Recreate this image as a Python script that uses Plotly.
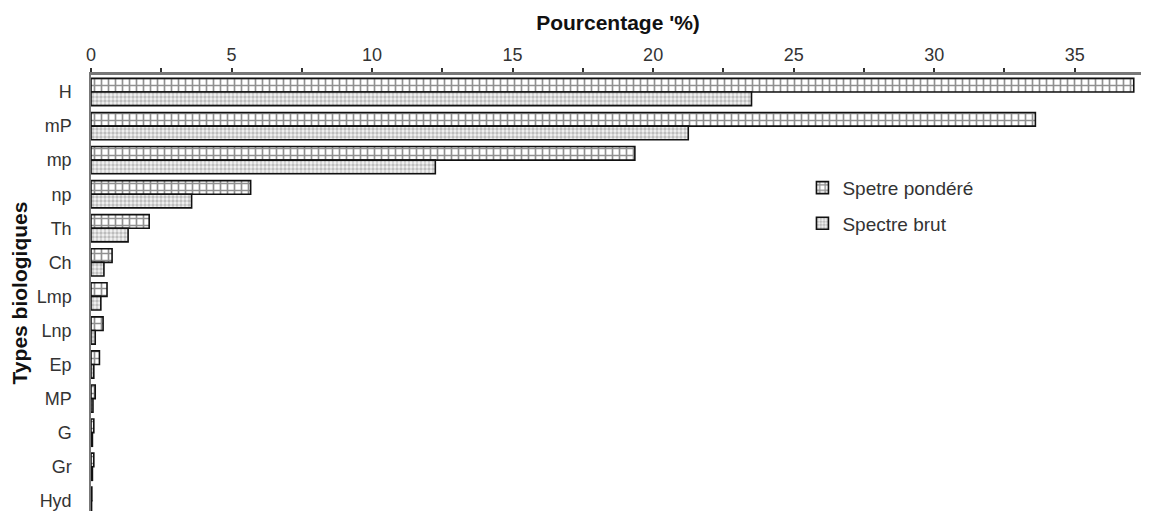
import plotly.graph_objects as go

categories = ["H", "mP", "mp", "np", "Th", "Ch", "Lmp", "Lnp", "Ep", "MP", "G", "Gr", "Hyd"]
pondere = [37.1, 33.6, 19.35, 5.68, 2.07, 0.75, 0.57, 0.43, 0.3, 0.15, 0.1, 0.1, 0.03]
brut = [23.5, 21.25, 12.25, 3.58, 1.32, 0.46, 0.35, 0.15, 0.1, 0.07, 0.05, 0.05, 0.02]

tick_vals = [0, 2.5, 5, 7.5, 10, 12.5, 15, 17.5, 20, 22.5, 25, 27.5, 30, 32.5, 35, 37.5]
tick_text = ["0", "", "5", "", "10", "", "15", "", "20", "", "25", "", "30", "", "35", ""]

font_family = "Liberation Sans, Arial, sans-serif"

fig = go.Figure()
fig.add_trace(go.Bar(
    y=categories, x=pondere, orientation="h", name="Spetre pondéré",
    legendgroup="a",
    marker=dict(color="white", line=dict(color="#111", width=1.6),
                pattern=dict(shape="+", fgcolor="#222", bgcolor="#ffffff",
                             size=7, solidity=0.42)),
))
fig.add_trace(go.Bar(
    y=categories, x=brut, orientation="h", name="Spectre brut",
    legendgroup="b",
    marker=dict(color="white", line=dict(color="#111", width=1.6),
                pattern=dict(shape=".", fgcolor="#888", bgcolor="#f3f3f3",
                             size=4, solidity=0.55)),
))

fig.update_layout(
    width=1141, height=503,
    margin=dict(l=83, r=4, t=67, b=0),
    paper_bgcolor="white", plot_bgcolor="white",
    barmode="group", bargap=0.2, bargroupgap=0.0,
    font=dict(family=font_family, size=18, color="#333"),
    showlegend=True,
    legend=dict(x=0.675, y=0.785, xanchor="left", yanchor="top",
                font=dict(size=19, color="#333"), bgcolor="rgba(0,0,0,0)",
                traceorder="grouped", tracegroupgap=8,
                itemwidth=30),
    xaxis=dict(
        side="top", range=[0, 37.5], tickmode="array",
        tickvals=tick_vals, ticktext=tick_text,
        ticks="outside", ticklen=4, tickwidth=1.5, tickcolor="#333",
        ticklabelstandoff=0,
        showline=True, linecolor="#777", linewidth=3,
        showgrid=False, zeroline=False,
        tickfont=dict(size=18, color="#333"),
        title=dict(text="<b>Pourcentage '%)</b>", font=dict(size=21, color="#111"), standoff=9),
    ),
    yaxis=dict(
        range=[12.3, -0.5], type="category",
        showline=True, linecolor="#777", linewidth=1.5,
        showgrid=False, zeroline=False, ticks="",
        ticklabelstandoff=14,
        tickfont=dict(size=18, color="#333"),
        title=dict(text="<b>Types biologiques</b>", font=dict(size=21, color="#111"), standoff=6),
    ),
)

fig.write_html("out.html")
